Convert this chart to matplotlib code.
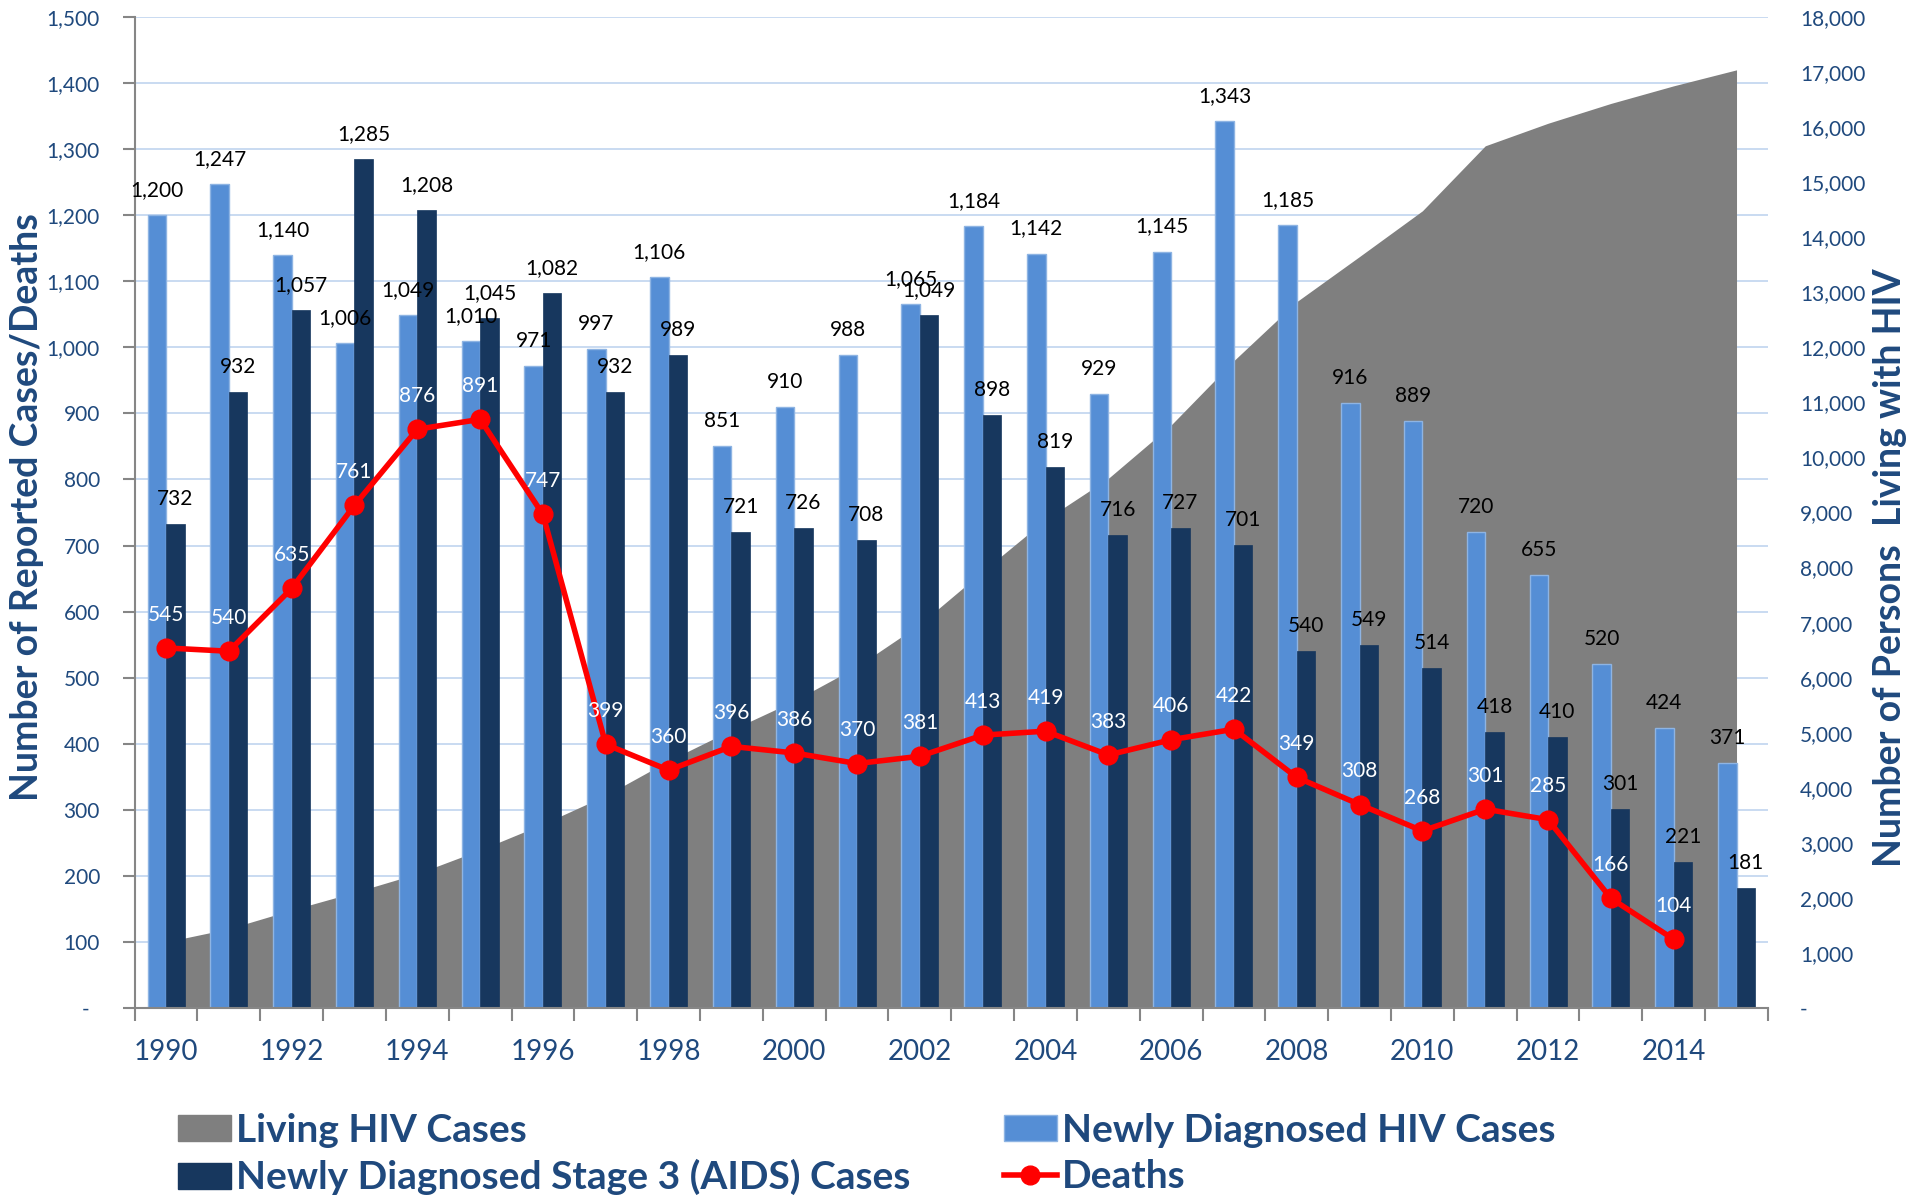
import numpy as np
import matplotlib
matplotlib.use("Agg")
import matplotlib.pyplot as plt
from matplotlib.patches import Patch
from matplotlib.lines import Line2D
from matplotlib.transforms import blended_transform_factory

plt.rcParams['font.family'] = ['Lato', 'DejaVu Sans']

years = list(range(1990, 2016))
new_hiv = [1200, 1247, 1140, 1006, 1049, 1010, 971, 997, 1106, 851, 910, 988, 1065,
           1184, 1142, 929, 1145, 1343, 1185, 916, 889, 720, 655, 520, 424, 371]
aids = [732, 932, 1057, 1285, 1208, 1045, 1082, 932, 989, 721, 726, 708, 1049,
        898, 819, 716, 727, 701, 540, 549, 514, 418, 410, 301, 221, 181]
deaths = [545, 540, 635, 761, 876, 891, 747, 399, 360, 396, 386, 370, 381,
          413, 419, 383, 406, 422, 349, 308, 268, 301, 285, 166, 104]
living = [1200, 1440, 1780, 2100, 2440, 2870, 3340, 3860, 4490, 5050, 5580, 6200, 6970,
          7930, 8870, 9620, 10590, 11760, 12830, 13650, 14480, 15660, 16070, 16430, 16750, 17040]
left_ticks = list(range(0, 1501, 100))
right_ticks = list(range(0, 18001, 1000))

C_LIGHT = '#558ED5'
C_LIGHT_EDGE = '#8EB4E3'
C_DARK = '#17375E'
C_GRAY = '#7F7F7F'
C_RED = '#FF0000'
C_TEXT = '#1F497D'
C_GRID = '#C9DBF1'
C_AXIS = '#868686'

fig = plt.figure(figsize=(19.15, 11.97), dpi=100)
fig.patch.set_facecolor('white')
ax = fig.add_axes([0.0703, 0.1579, 0.8529, 0.8279])
ax2 = ax.twinx()
ax.set_zorder(2)
ax2.set_zorder(1)
ax.patch.set_visible(False)

x = np.arange(len(years))
w = 0.295

# secondary axis: gridlines (from left ticks) and living area
trans = blended_transform_factory(ax2.transAxes, ax.transData)
for t in left_ticks[1:]:
    ax2.plot([0, 1], [t, t], transform=trans, color=C_GRID, lw=1.4, zorder=0.5)
ax2.fill_between(x, living, 0, color=C_GRAY, lw=0, zorder=1)
ax2.set_ylim(0, 18000)
ax2.set_yticks(right_ticks)
ax2.set_yticklabels(['-' if v == 0 else f'{v:,}' for v in right_ticks])
ax2.tick_params(axis='y', length=0, pad=23, labelsize=15, labelcolor=C_TEXT)
for s in ax2.spines.values():
    s.set_visible(False)

# primary axis: bars and line
ax.bar(x - w / 2, new_hiv, width=w, color=C_LIGHT, edgecolor=C_LIGHT_EDGE, linewidth=1, zorder=2)
ax.bar(x + w / 2, aids, width=w, color=C_DARK, edgecolor=C_DARK, linewidth=0.5, zorder=2)
xd = x[:len(deaths)]
ax.plot(xd, deaths, color=C_RED, lw=4, marker='o', markersize=13.5, zorder=3)

for xi, v in zip(x, new_hiv):
    ax.annotate(f'{v:,}', (xi - w / 2, v), xytext=(0, 18), textcoords='offset points',
                ha='center', va='center', fontsize=15, color='black', zorder=5)
for xi, v in zip(x, aids):
    ax.annotate(f'{v:,}', (xi + w / 2, v), xytext=(0, 18), textcoords='offset points',
                ha='center', va='center', fontsize=15, color='black', zorder=5)
for xi, v in zip(xd, deaths):
    ax.annotate(f'{v:,}', (xi, v), xytext=(0, 24), textcoords='offset points',
                ha='center', va='center', fontsize=15, color='white', zorder=5)

ax.set_xlim(-0.5, len(years) - 0.5)
ax2.set_xlim(-0.5, len(years) - 0.5)
ax.set_ylim(0, 1500)
ax.set_yticks(left_ticks)
ax.set_yticklabels(['-  ' if v == 0 else f'{v:,}' for v in left_ticks])
ax.tick_params(axis='y', direction='out', length=9, width=1.5, color=C_AXIS,
               pad=16, labelsize=15, labelcolor=C_TEXT)
ax.set_xticks(x[::2])
ax.set_xticklabels([str(y) for y in years[::2]])
ax.set_xticks(np.arange(-0.5, len(years)), minor=True)
ax.tick_params(axis='x', which='major', length=0, pad=22, labelsize=20, labelcolor=C_TEXT)
ax.tick_params(axis='x', which='minor', direction='out', length=9, width=1.5, color=C_AXIS)
for side in ['top', 'right']:
    ax.spines[side].set_visible(False)
for side in ['left', 'bottom']:
    ax.spines[side].set_color(C_AXIS)
    ax.spines[side].set_linewidth(1.5)

fig.text(27 / 1915, 1 - 507 / 1197, 'Number of Reported Cases/Deaths', rotation=90,
         ha='center', va='center', fontsize=27, fontweight='bold', color=C_TEXT)
fig.text(1890 / 1915, 1 - 568 / 1197, 'Number of Persons  Living with HIV', rotation=90,
         ha='center', va='center', fontsize=27, fontweight='bold', color=C_TEXT)

handles = [
    Patch(facecolor=C_GRAY, edgecolor=C_GRAY),
    Patch(facecolor=C_DARK, edgecolor=C_DARK),
    Patch(facecolor=C_LIGHT, edgecolor=C_LIGHT_EDGE),
    Line2D([0], [0], color=C_RED, lw=4, marker='o', markersize=13.5),
]
labels = ['Living HIV Cases', 'Newly Diagnosed Stage 3 (AIDS) Cases',
          'Newly Diagnosed HIV Cases', 'Deaths']
leg = fig.legend(handles, labels, loc='upper left', bbox_to_anchor=(178 / 1915, 1 - 1113 / 1197),
                 ncol=2, frameon=False, borderpad=0, borderaxespad=0, handlelength=1.36,
                 handleheight=0.64, handletextpad=0.13, columnspacing=2.4, labelspacing=0.29,
                 prop={'size': 28, 'weight': 'bold'})
for t in leg.get_texts():
    t.set_color(C_TEXT)

fig.savefig('out.png', dpi=100)
